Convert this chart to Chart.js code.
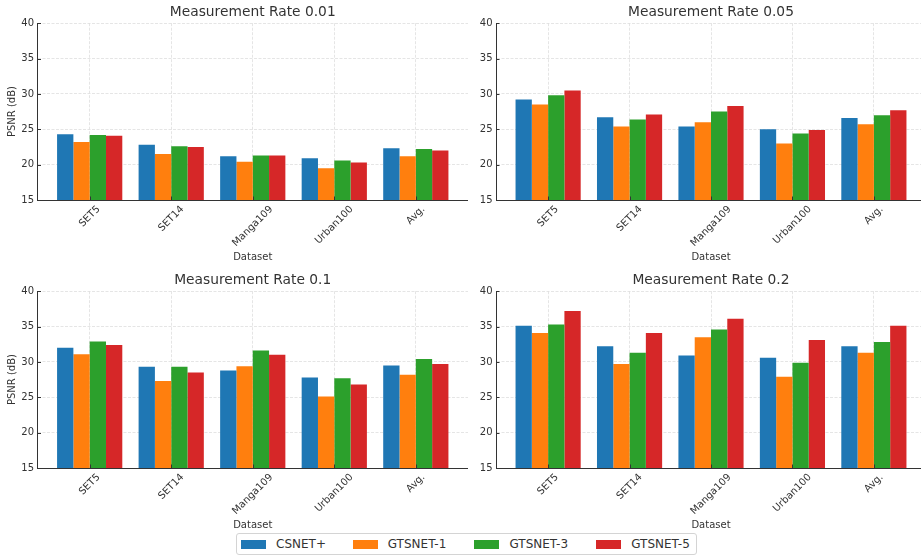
<!DOCTYPE html>
<html>
<head>
<meta charset="utf-8">
<script src="https://cdn.jsdelivr.net/npm/chart.js@4.4.0/dist/chart.umd.min.js"></script>
<style>
  html, body { margin: 0; padding: 0; background: #fff; width: 921px; height: 555px; overflow: hidden; position: relative; font-family: 'DejaVu Sans', sans-serif; }
  canvas { position: absolute; }
  #legend { position: absolute; left: 236px; top: 533px; width: 461px; height: 22px; box-sizing: border-box; border: 1px solid #d4d4d4; border-radius: 3px; background: #fff; display: flex; align-items: center; padding: 0 4px; font-size: 12px; color: #333; }
  .item { display: flex; align-items: center; white-space: nowrap; }
  .sw { width: 25px; height: 9px; margin-right: 10px; flex: none; }
</style>
</head>
<body>
<canvas id="c0" width="468" height="270" style="left:0;top:0"></canvas>
<canvas id="c1" width="466" height="270" style="left:460px;top:0"></canvas>
<canvas id="c2" width="468" height="270" style="left:0;top:268px"></canvas>
<canvas id="c3" width="466" height="270" style="left:460px;top:268px"></canvas>
<div id="legend"></div>
<script>
// Datasets on the x axis, methods as bar series
const categories = ['SET5', 'SET14', 'Manga109', 'Urban100', 'Avg.'];
const methods = ['CSNET+', 'GTSNET-1', 'GTSNET-3', 'GTSNET-5'];
const colors = ['#1f77b4', '#ff7f0e', '#2ca02c', '#d62728'];
const rates = ['0.01', '0.05', '0.1', '0.2'];
const yTicks = [15, 20, 25, 30, 35, 40];

// PSNR (dB) per method, one row per method, in category order
const psnrRate001 = [
  [24.3, 22.8, 21.2, 20.9, 22.3],
  [23.2, 21.5, 20.4, 19.5, 21.2],
  [24.2, 22.6, 21.3, 20.6, 22.2],
  [24.1, 22.5, 21.3, 20.3, 22.0]
];
const psnrRate005 = [
  [29.2, 26.7, 25.4, 25.0, 26.6],
  [28.5, 25.4, 26.0, 23.0, 25.7],
  [29.8, 26.4, 27.5, 24.4, 27.0],
  [30.5, 27.1, 28.3, 24.9, 27.7]
];
const psnrRate01 = [
  [32.0, 29.3, 28.8, 27.8, 29.5],
  [31.1, 27.3, 29.4, 25.1, 28.2],
  [32.9, 29.3, 31.6, 27.7, 30.4],
  [32.4, 28.5, 31.0, 26.8, 29.7]
];
const psnrRate02 = [
  [35.1, 32.2, 30.9, 30.6, 32.2],
  [34.1, 29.7, 33.5, 27.9, 31.3],
  [35.3, 31.3, 34.6, 29.9, 32.8],
  [37.2, 34.1, 36.1, 33.1, 35.1]
];
const panels = [psnrRate001, psnrRate005, psnrRate01, psnrRate02];

// Legend column widths (swatch + label + spacing)
const legendColumns = [112, 122, 122, 96];

const textColor = '#333';
const gridColor = '#dedede';
const font = 'DejaVu Sans';
Chart.defaults.font.family = font;
Chart.defaults.color = textColor;

// Panel title centred over the plot area, inward tick marks,
// and 45° category labels centred under each group
const axisDecor = {
  id: 'axisDecor',
  afterDatasetsDraw(chart, args, opts) {
    const { ctx, chartArea: a, scales: { x, y } } = chart;
    ctx.save();
    ctx.strokeStyle = textColor;
    ctx.lineWidth = 1;
    ctx.beginPath();
    y.ticks.forEach(t => {
      const py = Math.round(y.getPixelForValue(t.value)) + 0.5;
      ctx.moveTo(a.left, py); ctx.lineTo(a.left + 3.5, py);
    });
    x.ticks.forEach(t => {
      const px = Math.round(x.getPixelForValue(t.value)) + 0.5;
      ctx.moveTo(px, a.bottom); ctx.lineTo(px, a.bottom - 3.5);
    });
    ctx.stroke();

    ctx.fillStyle = textColor;
    ctx.textAlign = 'center';
    ctx.textBaseline = 'middle';
    ctx.font = '13.8px "' + font + '"';
    ctx.fillText(opts.title, (a.left + a.right) / 2, 12.7);

    ctx.font = '10px "' + font + '"';
    x.ticks.forEach(t => {
      const label = categories[t.value];
      const w = ctx.measureText(label).width;
      const h = (w + 11.6) * Math.SQRT1_2;
      ctx.save();
      ctx.translate(x.getPixelForValue(t.value), a.bottom + 3.5 + h / 2);
      ctx.rotate(-Math.PI / 4);
      ctx.fillText(label, 0, 0);
      ctx.restore();
    });
    ctx.restore();
  }
};

panels.forEach((rows, p) => {
  const leftCol = p % 2 === 0;
  new Chart(document.getElementById('c' + p), {
    type: 'bar',
    data: {
      datasets: methods.map((m, k) => ({
        label: m,
        data: rows[k].map((v, i) => ({ x: i, y: v })),
        backgroundColor: colors[k],
        borderWidth: 0,
        categoryPercentage: 0.8,
        barPercentage: 1.0
      }))
    },
    options: {
      responsive: false,
      animation: false,
      devicePixelRatio: 1,
      layout: { padding: { top: 23.2, left: 0, right: 0, bottom: 0 } },
      plugins: {
        legend: { display: false },
        tooltip: { enabled: false },
        title: { display: false },
        axisDecor: { title: 'Measurement Rate ' + rates[p] }
      },
      scales: {
        x: {
          type: 'linear',
          min: -0.64,
          max: 4.64,
          offset: false,
          afterBuildTicks: s => { s.ticks = categories.map((_, i) => ({ value: i })); },
          afterFit: s => { s.height = 70; },
          ticks: { display: false },
          grid: { offset: false, color: gridColor, lineWidth: 0.8, drawTicks: false },
          border: { color: textColor, width: 1, dash: [3, 1.5] },
          title: { display: true, text: 'Dataset', font: { size: 10 }, color: textColor, padding: { top: 0, bottom: 7 } }
        },
        y: {
          min: 15,
          max: 40,
          afterBuildTicks: s => { s.ticks = yTicks.map(v => ({ value: v })); },
          afterFit: s => { s.width = leftCol ? 37.5 : 36; },
          ticks: { font: { size: 10 }, color: textColor, padding: 3.5 },
          grid: { color: gridColor, lineWidth: 0.8, drawTicks: false },
          border: { color: textColor, width: 1, dash: [3, 1.5] },
          title: { display: leftCol, text: 'PSNR (dB)', font: { size: 10 }, color: textColor, padding: { top: 6, bottom: 0 } }
        }
      }
    },
    plugins: [axisDecor]
  });
});

// Shared legend for all four panels
const legend = document.getElementById('legend');
methods.forEach((m, k) => {
  const item = document.createElement('div');
  item.className = 'item';
  item.style.width = legendColumns[k] + 'px';
  const sw = document.createElement('span');
  sw.className = 'sw';
  sw.style.background = colors[k];
  const txt = document.createElement('span');
  txt.textContent = m;
  item.appendChild(sw);
  item.appendChild(txt);
  legend.appendChild(item);
});
</script>
</body>
</html>
